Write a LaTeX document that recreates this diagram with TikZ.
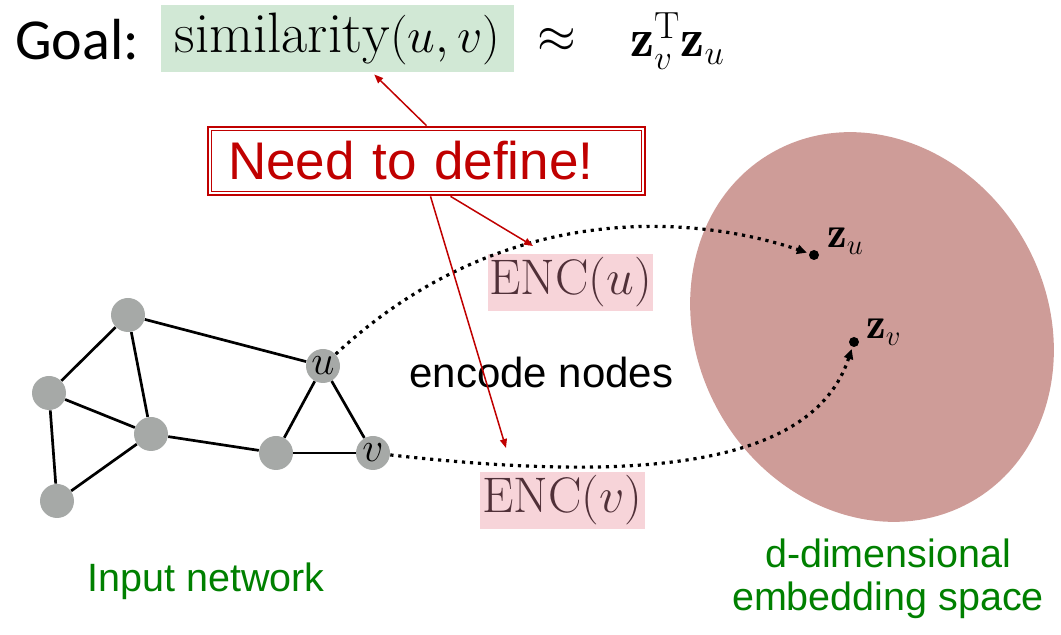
\documentclass[tikz,border=0pt]{standalone}
\usepackage{fontspec}
\usetikzlibrary{arrows.meta,calc}
\newfontfamily\arialfont{Liberation Sans}
\newfontfamily\calibrifont{Carlito}
\definecolor{simgreen}{RGB}{209,232,213}
\definecolor{encpink}{RGB}{247,212,217}
\definecolor{enctext}{RGB}{80,48,56}
\definecolor{embed}{RGB}{206,156,152}
\definecolor{vgray}{RGB}{166,169,167}
\definecolor{needred}{RGB}{192,0,0}
\definecolor{labelgreen}{RGB}{0,128,0}
\begin{document}
\begin{tikzpicture}[x=0.5pt,y=-0.5pt,
        vertex/.style={circle,fill=vgray,inner sep=0pt,minimum size=17pt,font=\fontsize{21}{23}\selectfont},
        edge/.style={line width=1.35pt},
        txt/.style={inner sep=0pt},
        encbox/.style={fill=encpink,text=enctext,inner sep=0pt,minimum width=82.5pt,minimum height=28.5pt,font=\fontsize{25}{28}\selectfont},
        redarrow/.style={needred,line width=0.75pt,-{Triangle[length=4.5pt,width=3.5pt]}},
        embedarrow/.style={line width=1.6pt,dash pattern=on 1.6pt off 2.4pt,shorten >=1pt,-{Triangle[length=5pt,width=4.5pt]}},
        dot/.style={circle,fill=black,inner sep=0pt,minimum size=5pt}]
        \useasboundingbox (0,0) rectangle (1061,635);
        % goal line
        \node[txt,anchor=base west,font=\calibrifont\fontsize{29}{32}\selectfont] (goal) at (15,60) {Goal:};
        \node[fill=simgreen,inner sep=0pt,minimum width=176.5pt,minimum height=33.5pt,font=\fontsize{28.5}{32}\selectfont] (sim) at (337.5,38.5) {$\mathrm{similarity}(u,v)$};
        \node[txt,font=\fontsize{26.5}{30}\selectfont] (approx) at (557,40) {$\approx$};
        \node[txt,anchor=base west,font=\fontsize{27}{30}\selectfont] (zz) at (630,57) {$\mathbf{z}_v^{\mathrm{T}}\mathbf{z}_u$};
        % embedding space
        \fill[embed,rotate around={-60:(872,327)}] (872,327) ellipse [x radius=201,y radius=175];
        % input network
        \node[vertex] (A) at (128,315) {};
        \node[vertex] (B) at (49,393) {};
        \node[vertex] (C) at (151,434) {};
        \node[vertex] (D) at (57,501) {};
        \node[vertex] (E) at (276,453) {};
        \node[vertex] (u) at (323,366) {$u$};
        \node[vertex] (v) at (373,453) {$v$};
        \foreach \a/\b in {A/B,A/C,A/u,B/C,B/D,C/D,C/E,E/u,E/v,u/v}
            \draw[edge] (\a) -- (\b);
        % encoders
        \node[encbox] (encu) at (570.5,282.5) {$\mathrm{ENC}(u)$};
        \node[encbox] (encv) at (562.5,500.5) {$\mathrm{ENC}(v)$};
        \node[txt,anchor=base west,font=\arialfont\fontsize{21}{24}\selectfont] (encode) at (409,388) {encode nodes};
        \node[dot] (zu) at (814,255) {};
        \node[dot] (zv) at (854,342) {};
        \node[txt,anchor=base west,font=\fontsize{22}{24}\selectfont] (zulabel) at (827,248) {$\mathbf{z}_u$};
        \node[txt,anchor=base west,font=\fontsize{22}{24}\selectfont] (zvlabel) at (866,339) {$\mathbf{z}_v$};
        \draw[embedarrow] (u) .. controls (501,200) and (692,214) .. (zu);
        \draw[embedarrow] (v) .. controls (630,482) and (812,470) .. (zv);
        % need to define
        \node[draw=needred,line width=1.35pt,inner xsep=10pt,inner ysep=0pt,text width=198.5pt,align=left,minimum height=34pt,text=needred,font=\arialfont\fontsize{26.5}{30}\selectfont] (need) at (426.5,161) {Need to define!};
        \draw[needred,line width=0.5pt] ([shift={(2.2pt,-2.2pt)}]need.north west) rectangle ([shift={(-2.2pt,2.2pt)}]need.south east);
        \coordinate (encutip) at (533,246);
        \coordinate (encvtip) at (506,448);
        \draw[redarrow,shorten >=1.5pt] (need.north) -- (sim);
        \draw[redarrow] ([xshift=12pt]need.south) -- (encutip);
        \draw[redarrow] ([xshift=2pt]need.south) -- (encvtip);
        % labels
        \node[txt,anchor=base west,text=labelgreen,font=\arialfont\fontsize{19.75}{22}\selectfont] (input) at (87,592) {Input network};
        \node[txt,anchor=north,text=labelgreen,align=center,font=\arialfont\fontsize{19.75}{21.5}\selectfont] (space) at (888,538) {d-dimensional\\embedding space};
    \end{tikzpicture}
\end{document}
